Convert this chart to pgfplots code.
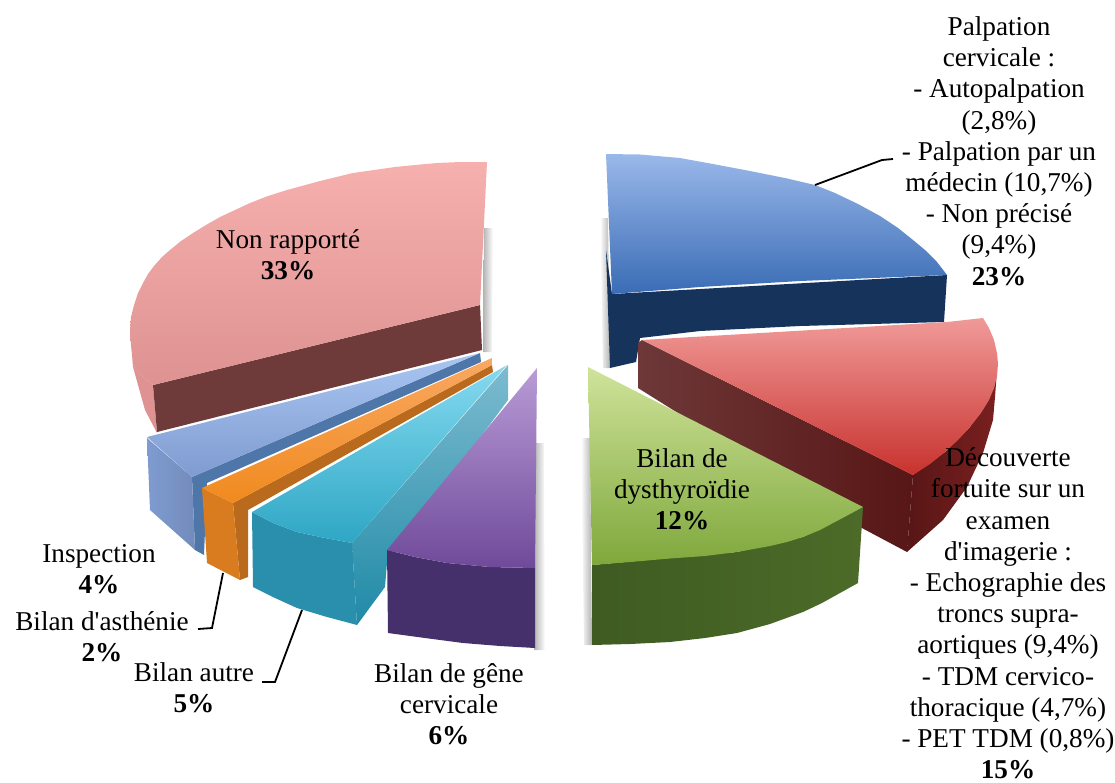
\documentclass[border=0pt]{standalone}
\usepackage{pgfplots}
\usepackage{fontspec}
\setmainfont{Liberation Serif}[Ligatures=TeXOff]
\pgfplotsset{compat=1.18}
\definecolor{b1}{HTML}{9AB8EA}\definecolor{b2}{HTML}{3A6CB5}\definecolor{b3}{HTML}{16335C}
\definecolor{r1}{HTML}{F09A98}\definecolor{r2}{HTML}{C8322E}\definecolor{r3}{HTML}{6E3838}\definecolor{r4}{HTML}{581616}\definecolor{r5}{HTML}{7A1F1F}
\definecolor{g1}{HTML}{CFE39A}\definecolor{g2}{HTML}{7FA83C}\definecolor{g3}{HTML}{3F5B22}\definecolor{g4}{HTML}{4C6B28}
\definecolor{p1}{HTML}{F6B0AE}\definecolor{p2}{HTML}{DE9292}\definecolor{p3}{HTML}{6F3A3A}
\definecolor{i1}{HTML}{A9C6F2}\definecolor{i2}{HTML}{7F9BD0}\definecolor{i3}{HTML}{4F76A8}
\definecolor{o1}{HTML}{F9A862}\definecolor{o2}{HTML}{F08A1E}\definecolor{o3}{HTML}{D97C1F}\definecolor{o4}{HTML}{B96A1C}
\definecolor{c1}{HTML}{85DAF0}\definecolor{c2}{HTML}{2EA6C4}\definecolor{c3}{HTML}{7DBBD0}\definecolor{c4}{HTML}{1F8AA6}\definecolor{c5}{HTML}{2A8FAC}
\definecolor{v1}{HTML}{B99BD6}\definecolor{v2}{HTML}{6F4A9A}\definecolor{v3}{HTML}{46306B}
\begin{document}
\begin{tikzpicture}
\useasboundingbox (0,0) rectangle (1115pt,782pt);
\begin{axis}[
  scale only axis, width=1115pt, height=782pt,
  xmin=0, xmax=1115, ymin=0, ymax=782, y dir=reverse,
  hide axis, clip=false,
  nodes={font=\fontsize{27.2}{31.2}\selectfont, align=center, inner sep=0pt, text=black}
]
% soft shadows
\addplot[shade,left color=white,right color=gray!60,draw=none] coordinates {(600,218)(608,218)(610,368)(603,368)(600,218)};
\addplot[shade,left color=white,right color=gray!60,draw=none] coordinates {(581,438)(590,438)(592,645)(584,645)(581,438)};
\addplot[shade,left color=gray!60,right color=white,draw=none] coordinates {(484,228)(493,228)(492,352)(483,352)(484,228)};
\addplot[shade,left color=gray!60,right color=white,draw=none] coordinates {(534,443)(544,443)(545,650)(534,650)(534,443)};
% Palpation (blue)
\addplot[fill=b3,draw=none] coordinates {(612,294)(947,275)(944,322)(800,326)(700,331)(640,338)(636,362)(610,368)(606,250)(612,294)};
\addplot[shade,top color=b1,bottom color=b2,draw=none] coordinates {(606,154)(640,154.5)(680,158)(713,164)(750,171)(785,178)(815,185)(835,193)(858,204)(880,216)(898,228)(913,240)(925,250)(937,262)(947,275)(800,281)(700,287)(612,294)(606,154)};
% Decouverte (red)
\addplot[left color=r3,right color=r4,shade,draw=none] coordinates {(638,343)(642,340)(913,475)(907,552)(860,527)(638,388)(638,343)};
\addplot[left color=r4,right color=r5,shade,draw=none] coordinates {(913,475)(945,452)(970,427)(994,388)(997,370)(995,397)(993,420)(983,453)(967,487)(943,520)(907,552)(913,475)};
\addplot[shade,top color=r1,bottom color=r2,draw=none] coordinates {(642,340)(947,322)(983,318)(989,328)(994,340)(997,353)(998,364)(997,376)(994,388)(989,400)(981,413)(970,427)(958,440)(945,452)(930,464)(913,475)(642,340)};
% Dysthyroidie (green)
\addplot[left color=g3,right color=g4,shade,draw=none] coordinates {(592,565)(670,558)(737,552)(803,537)(863,507)(858,583)(840,593)(822,603)(803,612)(770,624)(737,633)(705,638)(670,642)(630,644)(592,645)(592,565)};
\addplot[shade,top color=g1,bottom color=g2,draw=none] coordinates {(588,367)(863,507)(850,514)(835,522)(820,530)(803,537)(787,542)(770,546)(737,552)(705,556)(670,558.5)(630,562)(592,565)(588,367)};
% Non rapporte (pink)
\addplot[fill=p2,draw=none] coordinates {(130,330)(135,370)(153,385)(157,433)(145,410)(133,367)(130,330)};
\addplot[fill=p3,draw=none] coordinates {(153,385)(480,305)(482,350)(157,432)(153,385)};
\addplot[shade,top color=p1,bottom color=p2,draw=none] coordinates {(487,162)(460,162)(437,163)(415,165)(395,167)(374,170)(353,173)(320,181)(287,190)(268,196)(250,203)(235,210)(220,217)(206,225)(193,233)(181,241)(170,250)(162,257)(154,266)(148,274)(143,283)(138,293)(134,305)(131,317)(130,330)(131,345)(133,358)(135,370)(153,385)(480,305)(487,162)};
% Inspection
\addplot[fill=i3,draw=none] coordinates {(192,477)(480,353)(481,362)(207,483)(204,555)(195,550)(192,477)};
\addplot[left color=i2,right color=i2!90!black,shade,draw=none] coordinates {(147,438)(192,477)(195,550)(150,510)(147,438)};
\addplot[shade,top color=i1,bottom color=i2,draw=none] coordinates {(480,353)(147,437)(192,477)(480,353)};
% Asthenie (orange)
\addplot[fill=o4,draw=none] coordinates {(233,503)(492,365)(493,372)(248,510)(248,577)(240,580)(233,503)};
\addplot[fill=o3,draw=none] coordinates {(202,488)(233,503)(240,580)(207,563)(202,488)};
\addplot[shade,top color=o1,bottom color=o2,draw=none] coordinates {(492,358)(202,488)(233,503)(492,365)(492,358)};
% Bilan autre (cyan)
\addplot[shade,top color=c3,bottom color=c4,draw=none] coordinates {(352,543)(508,365)(508,400)(387,563)(385,587)(357,625)(352,543)};
\addplot[fill=c5,draw=none] coordinates {(252,512)(273,523)(297,532)(325,538)(352,543)(357,625)(327,617)(297,608)(275,598)(253,587)(252,512)};
\addplot[shade,top color=c1,bottom color=c2,draw=none] coordinates {(507,365)(252,512)(273,523)(297,532)(325,538)(352,543)(507,365)};
% Gene cervicale (purple)
\addplot[fill=v3,draw=none] coordinates {(387,550)(415,557)(447,563)(490,567)(535,568)(535,648)(500,646)(463,643)(425,638)(388,633)(387,550)};
\addplot[shade,top color=v1,bottom color=v2,draw=none] coordinates {(537,368)(387,550)(415,557)(447,563)(490,567)(535,568)(537,368)};
% leaders
\addplot[black,line width=1.8pt] coordinates {(815,185)(882,160)(893,159)};
\addplot[black,line width=1.8pt] coordinates {(223,573)(212,628)(198,629)};
\addplot[black,line width=1.8pt] coordinates {(302,610)(275,682)(262,682)};
% labels
\node at (axis cs:999,151) {Palpation\\cervicale :\\- Autopalpation\\(2,8\%)\\- Palpation par un\\médecin (10,7\%)\\- Non précisé\\(9,4\%)\\\textbf{23\%}};
\node at (axis cs:1008,613.5) {Découverte\\fortuite sur un\\examen\\d'imagerie :\\- Echographie des\\troncs supra-\\aortiques (9,4\%)\\- TDM cervico-\\thoracique (4,7\%)\\- PET TDM (0,8\%)\\\textbf{15\%}};
\node at (axis cs:682,489) {Bilan de\\dysthyroïdie\\\textbf{12\%}};
\node at (axis cs:288,255) {Non rapporté\\\textbf{33\%}};
\node at (axis cs:99,569) {Inspection\\\textbf{4\%}};
\node at (axis cs:102,637) {Bilan d'asthénie\\\textbf{2\%}};
\node at (axis cs:194,688) {Bilan autre\\\textbf{5\%}};
\node at (axis cs:449,704) {Bilan de gêne\\cervicale\\\textbf{6\%}};
\end{axis}
\end{tikzpicture}
\end{document}
